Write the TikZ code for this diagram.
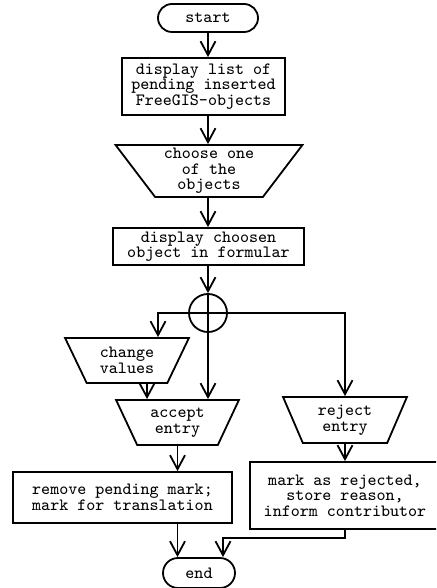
\documentclass[tikz,border=0pt]{standalone}
\usetikzlibrary{arrows.meta,shapes.geometric,shapes.misc}

\begin{document}
\begin{tikzpicture}[x=0.5pt,y=-0.5pt,line width=0.9pt,
  font=\ttfamily\fontsize{8.6}{7.8}\selectfont,
  term/.style={draw,rounded rectangle,minimum width=50pt,minimum height=14pt,inner sep=0pt},
  box/.style={draw,rectangle,align=center,inner sep=0pt},
  io/.style={draw,trapezium,shape border rotate=180,trapezium stretches=true,align=center,inner sep=0pt},
  arr/.style={-{Straight Barb[length=7pt,width=7.5pt]}}]
\useasboundingbox (0,0) rectangle (436,588);
\clip (0,0) rectangle (436,588);

% \draw[color=gray,step=20,thin] (0,0) grid (436,588);

\node[term] (start) at (208,18) {start};
\node[box,minimum width=81.5pt,minimum height=28.5pt] (list) at (203.5,86.5) {display list of\\pending inserted\\FreeGIS-objects};
\node[io,trapezium angle=54,minimum width=94pt,minimum height=26pt] (choose) at (209,171) {choose one\\of the\\objects};
\node[box,minimum width=95.5pt,minimum height=18.5pt] (show) at (208.5,246.5) {display choosen\\object in formular};
\node[draw,circle,minimum size=19pt,inner sep=0pt] (join) at (208,313) {};

\node[io,trapezium angle=61,minimum width=62pt,minimum height=22.5pt] (change) at (127,360.5) {change\\values};
\node[io,trapezium angle=64,minimum width=61.5pt,minimum height=22.5pt] (accept) at (177.5,422.5) {accept\\entry};
\node[io,trapezium angle=67,minimum width=62pt,minimum height=23pt] (reject) at (345,420) {reject\\entry};

\node[box,minimum width=109.5pt,minimum height=25.5pt] (remove) at (122.5,497.5) {remove pending mark;\\mark for translation};
\node[box,minimum width=95pt,minimum height=33.5pt] (mark) at (345,495.5) {mark as rejected,\\store reason,\\inform contributor};
\node[term,minimum width=36pt,minimum height=15pt] (finish) at (199,573) {end};

\coordinate[xshift=15.5pt] (cvin) at (change.north);
\coordinate[xshift=10pt] (cvout) at (change.south);
\coordinate[xshift=12pt] (finin) at (finish.north);

\draw[arr] (start.south) -- (start.south |- list.north);
\draw[arr] (list.south -| start) -- (start |- choose.north);
\draw[arr] (choose.south -| join) -- (join |- show.north);
\draw[arr] (show.south -| join) -- (join.north);
\draw (join.north) -- (join.south);
\draw (join.west) -- (join.east);

\draw[arr] (join.west) -| (cvin);
\draw[arr] (join.south) -- (join |- accept.north);
\draw[arr] (join.east) -| (reject.north);
\draw[arr] (cvout) -- (cvout |- accept.north);

\draw[arr] (accept.south) -- (accept.south |- remove.north);
\draw[arr] (reject.south) -- (reject.south |- mark.north);
\draw[arr] (remove.south -| accept) -- (accept |- finish.north);
\draw[arr] (mark.south -| reject) -- ++(0,8) -| (finin);

\end{tikzpicture}
\end{document}
